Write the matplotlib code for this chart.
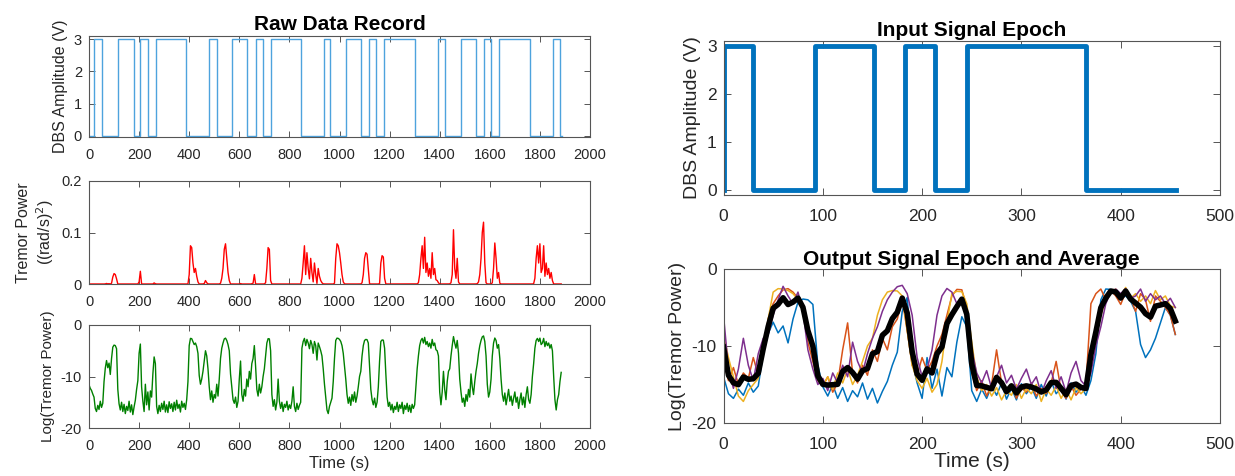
import numpy as np
import matplotlib
matplotlib.use('Agg')
import matplotlib.pyplot as plt

plt.rcParams['font.family'] = ['Liberation Sans', 'DejaVu Sans']
plt.rcParams['axes.unicode_minus'] = False

# ---------------- data ----------------
# Raw DBS record: times (s) where the stimulation level changes, and the level held from each time
raw_dbs_edges = [0, 21, 53, 115, 179, 204, 236, 266, 387,
                 481, 510, 570, 631, 665, 693, 725, 846,
                 937, 963, 1027, 1086, 1118, 1147, 1179, 1300,
                 1393, 1421, 1485, 1546, 1576, 1605, 1638, 1759,
                 1852, 1880, 1888]
raw_dbs_levels = [0, 3, 0, 3, 0, 3, 0, 3, 0,
                  3, 0, 3, 0, 3, 0, 3, 0,
                  3, 0, 3, 0, 3, 0, 3, 0,
                  3, 0, 3, 0, 3, 0, 3, 0,
                  3, 0, 0]

# Input signal epoch (one stimulation pattern)
epoch_dbs_edges = [0, 1, 30, 92, 152, 183, 213, 245, 365, 456]
epoch_dbs_levels = [0, 3, 0, 3, 0, 3, 0, 3, 0, 0]

# Log(tremor power), sampled every 5 s from 0 to 1885 s
log_step_s = 5
log_tremor = [
    -11.6, -12.3, -12.7, -13.4, -14.0, -16.2, -16.8, -15.6, -16.4, -14.8, -16.0, -15.2, -11.0, -8.4, -6.9, -8.3, -7.4, -9.6, -6.5, -4.3,
    -3.9, -4.0, -4.6, -12.5, -15.3, -16.5, -15.0, -16.8, -15.4, -17.2, -15.8, -16.6, -14.8, -16.9, -15.5, -17.4, -15.9, -14.6, -12.5, -10.8,
    -5.5, -3.7, -12.0, -14.8, -16.8, -11.5, -15.5, -13.0, -16.5, -12.8, -14.0, -9.5, -6.2, -7.5, -15.8, -17.2, -15.6, -16.8, -15.2, -16.4,
    -14.8, -16.9, -15.5, -17.0, -14.9, -16.2, -15.3, -16.8, -15.0, -16.5, -14.6, -16.2, -15.4, -16.9, -14.8, -16.0, -15.2, -16.4, -14.5, -11.0,
    -4.0, -2.6, -2.65, -3.2, -3.8, -3.5, -4.2, -5.5, -9.8, -11.5, -10.5, -9.0, -7.0, -5.0, -6.0, -8.5, -12.0, -14.5, -12.8, -15.0,
    -13.5, -14.2, -11.5, -13.8, -10.5, -6.5, -4.5, -3.5, -2.7, -2.55, -3.0, -3.8, -5.0, -9.5, -12.0, -14.5, -15.2, -14.0, -16.0, -14.8,
    -10.5, -7.0, -13.5, -14.8, -12.5, -13.8, -10.5, -12.0, -9.0, -10.5, -7.5, -6.5, -4.0, -8.0, -12.5, -13.8, -11.5, -13.2, -12.0, -10.0,
    -8.5, -6.0, -3.5, -2.65, -2.7, -5.0, -13.5, -15.8, -14.5, -16.5, -15.0, -10.5, -14.8, -16.2, -15.0, -16.8, -15.4, -16.0, -14.8, -16.5,
    -15.5, -16.2, -14.8, -12.0, -15.8, -16.8, -15.2, -16.4, -15.6, -15.0, -4.5, -3.2, -2.6, -4.0, -2.8, -3.5, -4.6, -3.0, -3.8, -5.5,
    -3.2, -4.0, -6.8, -3.5, -4.2, -5.0, -6.0, -8.5, -11.5, -14.0, -16.5, -17.2, -15.8, -15.0, -14.2, -11.0, -6.5, -3.0, -2.55, -2.6,
    -2.8, -3.2, -4.0, -5.5, -8.0, -10.5, -13.5, -15.2, -14.0, -15.6, -13.5, -14.8, -13.0, -15.0, -13.8, -12.0, -10.0, -9.0, -6.0, -4.0,
    -3.0, -2.8, -2.85, -3.5, -8.0, -12.5, -14.5, -15.5, -14.2, -16.0, -15.0, -12.0, -7.0, -3.2, -2.9, -2.95, -4.5, -9.5, -14.0, -15.8,
    -15.0, -16.5, -15.4, -17.0, -15.8, -16.4, -15.0, -16.8, -15.5, -16.2, -15.0, -17.2, -15.6, -16.4, -15.2, -16.8, -15.6, -17.0, -15.4, -16.2,
    -15.5, -12.0, -8.5, -6.0, -4.0, -3.0, -2.6, -3.5, -2.4, -3.8, -3.2, -4.2, -3.5, -4.5, -2.8, -4.0, -3.5, -4.8, -5.0, -6.0,
    -13.0, -15.5, -13.0, -9.0, -12.5, -14.5, -11.0, -9.0, -8.5, -6.0, -4.0, -2.25, -3.5, -4.5, -3.0, -5.5, -10.5, -13.0, -15.0, -14.2,
    -15.8, -13.5, -14.8, -12.5, -14.0, -9.5, -12.0, -13.5, -11.0, -9.0, -7.5, -5.5, -4.0, -3.0, -2.3, -2.12, -3.2, -6.0, -11.5, -14.0,
    -13.0, -10.5, -6.0, -3.5, -2.53, -3.0, -4.5, -3.8, -6.5, -10.5, -13.5, -14.8, -13.2, -15.5, -14.0, -12.5, -14.8, -13.8, -15.6, -14.2,
    -13.0, -15.0, -14.0, -16.2, -14.5, -13.2, -15.5, -14.0, -16.0, -13.5, -12.0, -14.5, -15.2, -13.5, -10.0, -7.5, -4.5, -3.0, -2.6, -3.2,
    -2.55, -3.8, -3.5, -2.6, -4.2, -3.2, -4.0, -3.5, -4.5, -3.8, -5.0, -10.0, -14.5, -16.5, -14.5, -13.5, -11.0, -9.2,
]

# Epoch segmentation of the record (start times in s, length in samples)
epoch_starts_s = [20, 480, 935, 1395]
epoch_samples = 92
epoch_colors = ['#0072BD', '#D95319', '#EDB120', '#7E2F8E']

# ---------------- derived ----------------
log_arr = np.array(log_tremor)
log_t = np.arange(len(log_arr)) * log_step_s
tremor_power = np.exp(log_arr)          # Log(Tremor Power) is natural log
epochs = [log_arr[s // log_step_s: s // log_step_s + epoch_samples] for s in epoch_starts_s]
epoch_t = np.arange(epoch_samples) * log_step_s
epoch_mean = np.mean(np.vstack(epochs), axis=0)

# ---------------- figure ----------------
W, H = 1235, 476
fig = plt.figure(figsize=(W / 100, H / 100), dpi=100)

def rect(x0, y0, x1, y1):
    return [x0 / W, 1 - y1 / H, (x1 - x0) / W, (y1 - y0) / H]

TXT = '#262626'
SPINE = '#555555'

def style(ax, xpad, ypad, size, ticklen):
    for s in ax.spines.values():
        s.set_color(SPINE)
        s.set_linewidth(0.8)
    ax.tick_params(direction='in', top=True, right=True, length=ticklen, width=0.7,
                   color=SPINE, labelcolor=TXT, labelsize=size)
    ax.tick_params(axis='x', pad=xpad)
    ax.tick_params(axis='y', pad=ypad)

ax1 = fig.add_axes(rect(89, 36, 590, 137))
ax2 = fig.add_axes(rect(89, 181, 590, 284))
ax3 = fig.add_axes(rect(89, 325, 590, 428))
ax4 = fig.add_axes(rect(723.5, 40.7, 1220, 195))
ax5 = fig.add_axes(rect(723.5, 269, 1220, 423))

# Left column
ax1.step(raw_dbs_edges, raw_dbs_levels, where='post', color='#4DA3DD', lw=1.0)
ax1.set_xlim(0, 2000)
ax1.set_ylim(-0.04, 3.1)
ax1.set_yticks([0, 1, 2, 3])
ax1.set_xticks(range(0, 2001, 200))
ax1.set_ylabel('DBS Amplitude (V)', fontsize=11.5, color=TXT, labelpad=4)
ax1.set_title('Raw Data Record', fontsize=15, fontweight='bold', color='black', pad=4)

ax2.plot(log_t, tremor_power, color='red', lw=1.0)
ax2.set_xlim(0, 2000)
ax2.set_ylim(0, 0.2)
ax2.set_yticks([0, 0.1, 0.2])
ax2.set_yticklabels(['0', '0.1', '0.2'])
ax2.set_xticks(range(0, 2001, 200))
ax2.set_ylabel('Tremor Power\n((rad/s)$^2$)', fontsize=11.5, color=TXT, labelpad=4,
               multialignment='center')

ax3.plot(log_t, log_arr, color='#008000', lw=1.0)
ax3.set_xlim(0, 2000)
ax3.set_ylim(-20, 0)
ax3.set_yticks([-20, -10, 0])
ax3.set_xticks(range(0, 2001, 200))
ax3.set_ylabel('Log(Tremor Power)', fontsize=11, color=TXT, labelpad=4)
ax3.set_xlabel('Time (s)', fontsize=12, color=TXT, labelpad=2)

for ax in (ax1, ax2, ax3):
    style(ax, 8, 5, 10.5, 4)

# Right column
ax4.step(epoch_dbs_edges, epoch_dbs_levels, where='post', color='#0072BD', lw=3.5)
ax4.set_xlim(0, 500)
ax4.set_ylim(-0.1, 3.1)
ax4.set_yticks([0, 1, 2, 3])
ax4.set_xticks(range(0, 501, 100))
ax4.set_ylabel('DBS Amplitude (V)', fontsize=14, color=TXT, labelpad=4)
ax4.set_title('Input Signal Epoch', fontsize=15, fontweight='bold', color='black', pad=3.5)

for ep, col in zip(epochs, epoch_colors):
    ax5.plot(epoch_t, ep, color=col, lw=1.1)
ax5.plot(epoch_t, epoch_mean, color='black', lw=4)
ax5.set_xlim(0, 500)
ax5.set_ylim(-20, 0)
ax5.set_yticks([-20, -10, 0])
ax5.set_xticks(range(0, 501, 100))
ax5.set_ylabel('Log(Tremor Power)', fontsize=14, color=TXT, labelpad=4)
ax5.set_xlabel('Time (s)', fontsize=15, color=TXT, labelpad=0)
ax5.set_title('Output Signal Epoch and Average', fontsize=15, fontweight='bold', color='black', pad=3)

for ax in (ax4, ax5):
    style(ax, 10, 5, 12.5, 5)

fig.savefig('out.png', dpi=100)
